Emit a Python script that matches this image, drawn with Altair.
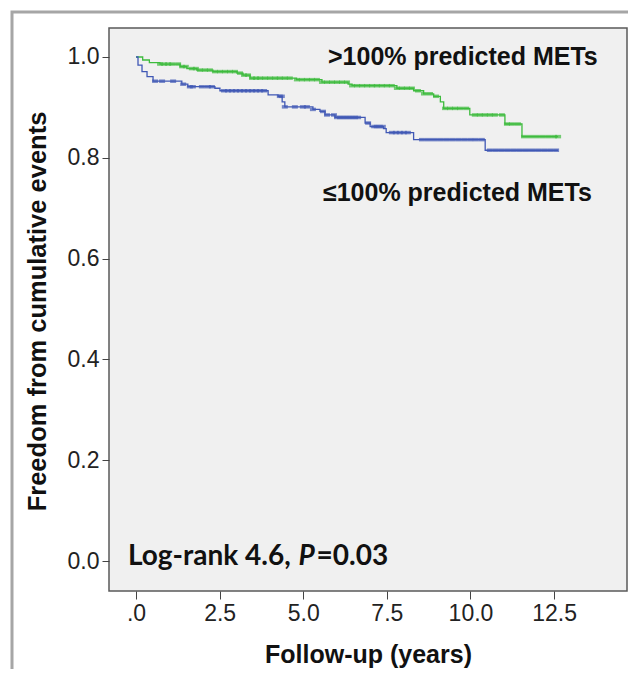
import altair as alt
import pandas as pd

# ---------------- data ----------------
grp_hi = ">100% predicted METs"
grp_lo = "≤100% predicted METs"

hi_time = [0, 0.2, 0.4, 0.72, 1.32, 1.52, 1.82, 2.3, 3.02, 3.2, 3.41, 4.8, 5.56,
           6.34, 6.46, 7.8, 8.3, 8.6, 8.9, 9.1, 9.2, 9.98, 11.03, 11.54]
hi_surv = [1.0, 0.994, 0.989, 0.986, 0.981, 0.977, 0.974, 0.971, 0.968, 0.964, 0.958,
           0.955, 0.950, 0.946, 0.943, 0.938, 0.933, 0.927, 0.922, 0.911, 0.898, 0.885,
           0.867, 0.842]

lo_time = [0, 0.06, 0.18, 0.33, 0.51, 1.37, 1.55, 2.36, 2.51, 3.95, 4.25, 4.37, 4.45,
           5.29, 5.50, 5.65, 5.95, 6.85, 7.0, 7.4, 7.48, 8.3, 10.44]
lo_surv = [1.0, 0.984, 0.971, 0.961, 0.952, 0.946, 0.941, 0.938, 0.933, 0.925, 0.922,
           0.911, 0.901, 0.896, 0.892, 0.885, 0.880, 0.869, 0.862, 0.858, 0.850, 0.836,
           0.815]

follow_end = 12.62

hi_censor = [0.72, 0.84, 0.96, 1.08, 1.26, 1.38, 1.49, 1.67, 1.79, 1.91, 2.06, 2.21,
             2.36, 2.51, 2.66, 2.81, 2.96, 3.11, 3.23, 3.35, 3.47, 3.59, 3.71, 3.86,
             4.01, 4.16, 4.30, 4.45, 4.60, 4.81, 4.96, 5.11, 5.26, 5.41, 5.56, 5.71,
             5.86, 6.01, 6.16, 6.31, 6.46, 6.61, 6.76, 6.91, 7.06, 7.20, 7.35, 7.50,
             7.65, 7.80, 7.95, 8.10, 8.25, 8.43, 8.61, 8.79, 8.97, 9.24, 9.39, 9.54,
             9.69, 9.87, 10.13, 10.28, 10.43, 10.58, 10.73, 10.94, 11.09, 11.24, 11.42,
             11.60, 11.78, 11.96, 12.14, 12.32, 12.50, 12.62]
lo_censor = [0.57, 0.78, 1.11, 1.41, 1.61, 1.70, 1.97, 2.15, 2.27, 2.63, 2.75, 2.87,
             2.99, 3.11, 3.23, 3.35, 3.47, 3.59, 3.71, 3.83, 4.30, 4.36, 4.45, 4.75,
             4.99, 5.11, 5.29, 5.59, 5.71, 5.92, 6.01, 6.10, 6.19, 6.28, 6.37, 6.46,
             6.55, 6.64, 6.94, 7.12, 7.20, 7.29, 7.38, 7.65, 7.77, 7.89, 8.01, 8.13,
             8.55, 8.73, 8.91, 9.09, 9.27, 9.45, 9.63, 9.81, 9.99, 10.16, 10.34, 10.58,
             10.76, 10.94, 11.12, 11.30, 11.48, 11.66, 11.84, 12.02, 12.20, 12.38, 12.56]

x_ticks = [0, 2.5, 5, 7.5, 10, 12.5]
y_ticks = [0, 0.2, 0.4, 0.6, 0.8, 1.0]

GREEN = "#3dbb3d"
BLUE = "#4058b5"


def step_rows(times, surv, grp):
    rows = [{"t": t, "s": s, "g": grp} for t, s in zip(times, surv)]
    rows.append({"t": follow_end, "s": surv[-1], "g": grp})
    return rows


def surv_at(times, surv, c):
    val = surv[0]
    for t, s in zip(times, surv):
        if t <= c:
            val = s
    return val


curves = pd.DataFrame(step_rows(hi_time, hi_surv, grp_hi) + step_rows(lo_time, lo_surv, grp_lo))
censor = pd.DataFrame(
    [{"t": c, "s": surv_at(hi_time, hi_surv, c), "g": grp_hi} for c in hi_censor]
    + [{"t": c, "s": surv_at(lo_time, lo_surv, c), "g": grp_lo} for c in lo_censor]
)

xs = alt.Scale(domain=[-0.807, 14.68], nice=False, zero=False)
ys = alt.Scale(domain=[-0.0595, 1.0575], nice=False, zero=False)
cs = alt.Scale(domain=[grp_hi, grp_lo], range=[GREEN, BLUE])

W, H = 518, 563

x_axis = alt.Axis(
    values=x_ticks, labelExpr="datum.value == 0 ? '.0' : format(datum.value, '.1f')",
    title="Follow-up (years)", grid=False, domain=False, tickSize=8, tickColor="#444",
    labelPadding=3, labelFont="Liberation Sans", labelFontSize=23, labelColor="#222",
    titleFont="Liberation Sans", titleFontSize=25, titleFontWeight="bold", titleColor="#111",
    titleBaseline="alphabetic", titleX=W / 2, titleY=71,
)
y_axis = alt.Axis(
    values=y_ticks, format=".1f", title="Freedom from cumulative events", grid=False,
    domain=False, tickSize=7, tickColor="#444", labelPadding=3,
    labelFont="Liberation Sans", labelFontSize=23, labelColor="#222",
    titleFont="Liberation Sans", titleFontSize=25.5, titleFontWeight="bold", titleColor="#111",
    titleBaseline="alphabetic", titleX=-64, titleY=283,
)

X = alt.X("t:Q", scale=xs, axis=x_axis, title="Follow-up (years)")
Y = alt.Y("s:Q", scale=ys, axis=y_axis, title="Freedom from cumulative events")

lines = alt.Chart(curves).mark_line(interpolate="step-after", strokeWidth=1.3).encode(
    x=X, y=Y,
    color=alt.Color("g:N", scale=cs, legend=None),
    detail="g:N",
)

marks = alt.Chart(censor).mark_tick(orient="horizontal", size=6, thickness=3.5).encode(
    x=X, y=Y,
    color=alt.Color("g:N", scale=cs, legend=None),
)

ann = pd.DataFrame([
    {"t": 5.74, "s": 0.984, "label": grp_hi},
    {"t": 5.59, "s": 0.714, "label": grp_lo},
])
ann_text = alt.Chart(ann).mark_text(
    align="left", baseline="alphabetic", font="Liberation Sans", fontSize=25,
    fontWeight="bold", color="#111",
).encode(x=X, y=Y, text="label:N")

lr = pd.DataFrame([
    {"t": -0.24, "s": -0.008, "label": "Log-rank 4.6,", "style": "normal"},
    {"t": 4.86, "s": -0.008, "label": "P", "style": "italic"},
    {"t": 5.40, "s": -0.008, "label": "=0.03", "style": "normal"},
])
lr_norm = alt.Chart(lr[lr["style"] == "normal"]).mark_text(
    align="left", baseline="alphabetic", font="Lato", fontSize=28, fontWeight="bold",
    color="#111",
).encode(x=X, y=Y, text="label:N")
lr_ital = alt.Chart(lr[lr["style"] == "italic"]).mark_text(
    align="left", baseline="alphabetic", font="Lato", fontSize=28, fontWeight="bold",
    fontStyle="italic", color="#111",
).encode(x=X, y=Y, text="label:N")

frame = alt.Chart(pd.DataFrame({"k": [0]})).mark_rect(
    fillOpacity=0, stroke="#a6a6a6", strokeWidth=3
).encode(
    x=alt.value(-97), x2=alt.value(900), y=alt.value(-16), y2=alt.value(900)
)

chart = alt.layer(lines, marks, ann_text, lr_norm, lr_ital, frame).properties(
    width=W, height=H,
    autosize=alt.AutoSizeParams(type="none"),
    padding={"left": 101, "top": 20, "right": 1, "bottom": 78},
    background="white",
).configure_view(fill="#f0f0f0", stroke="#5a5a5a", strokeWidth=1.5)

chart.save("out.html", embed_options={"renderer": "svg", "actions": False})
